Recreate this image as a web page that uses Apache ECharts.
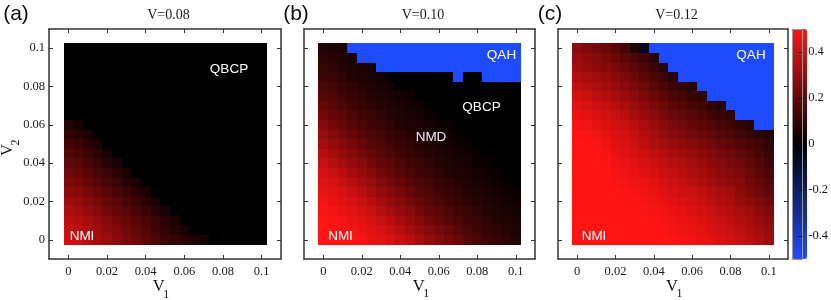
<!DOCTYPE html>
<html><head><meta charset="utf-8">
<script src="https://cdn.jsdelivr.net/npm/echarts@6/dist/echarts.min.js"></script>
<style>html,body{margin:0;padding:0;background:#fff}#c{width:831px;height:300px}</style>
</head><body><div id="c"></div>
<script>
const v1Values = [0,0.005,0.01,0.015,0.02,0.025,0.03,0.035,0.04,0.045,0.05,0.055,0.06,0.065,0.07,0.075,0.08,0.085,0.09,0.095,0.1];
const v2Values = [0,0.005,0.01,0.015,0.02,0.025,0.03,0.035,0.04,0.045,0.05,0.055,0.06,0.065,0.07,0.075,0.08,0.085,0.09,0.095,0.1];
const tickValues = [0,0.02,0.04,0.06,0.08,0.1];
const tickLabels = ['0','0.02','0.04','0.06','0.08','0.1'];
const cbTickValues = [-0.4,-0.2,0,0.2,0.4];
const cbTickLabels = ['-0.4','-0.2','0','0.2','0.4'];
const panelTitles = ['V=0.08','V=0.10','V=0.12'];
const panelLetters = ['(a)','(b)','(c)'];

// rows listed from V2 = 0.1 (top) down to V2 = 0 (bottom); columns V1 = 0 ... 0.1
const orderA = [
[0,0,0,0,0,0,0,0,0,0,0,0,0,0,0,0,0,0,0,0,0],
[0,0,0,0,0,0,0,0,0,0,0,0,0,0,0,0,0,0,0,0,0],
[0,0,0,0,0,0,0,0,0,0,0,0,0,0,0,0,0,0,0,0,0],
[0,0,0,0,0,0,0,0,0,0,0,0,0,0,0,0,0,0,0,0,0],
[0,0,0,0,0,0,0,0,0,0,0,0,0,0,0,0,0,0,0,0,0],
[0,0,0,0,0,0,0,0,0,0,0,0,0,0,0,0,0,0,0,0,0],
[0,0,0,0,0,0,0,0,0,0,0,0,0,0,0,0,0,0,0,0,0],
[0,0,0,0,0,0,0,0,0,0,0,0,0,0,0,0,0,0,0,0,0],
[0.07,0.05,0,0,0,0,0,0,0,0,0,0,0,0,0,0,0,0,0,0,0],
[0.10,0.08,0.05,0,0,0,0,0,0,0,0,0,0,0,0,0,0,0,0,0,0],
[0.13,0.11,0.08,0.05,0,0,0,0,0,0,0,0,0,0,0,0,0,0,0,0,0],
[0.16,0.14,0.11,0.08,0.05,0,0,0,0,0,0,0,0,0,0,0,0,0,0,0,0],
[0.19,0.17,0.14,0.11,0.08,0.05,0,0,0,0,0,0,0,0,0,0,0,0,0,0,0],
[0.22,0.20,0.17,0.14,0.11,0.08,0.05,0,0,0,0,0,0,0,0,0,0,0,0,0,0],
[0.25,0.23,0.20,0.17,0.14,0.11,0.08,0.05,0,0,0,0,0,0,0,0,0,0,0,0,0],
[0.28,0.26,0.23,0.20,0.17,0.14,0.11,0.08,0.05,0,0,0,0,0,0,0,0,0,0,0,0],
[0.31,0.29,0.26,0.23,0.20,0.17,0.14,0.11,0.08,0.05,0,0,0,0,0,0,0,0,0,0,0],
[0.34,0.32,0.29,0.26,0.23,0.20,0.17,0.14,0.11,0.08,0.05,0,0,0,0,0,0,0,0,0,0],
[0.37,0.35,0.32,0.29,0.26,0.23,0.20,0.17,0.14,0.11,0.08,0.05,0,0,0,0,0,0,0,0,0],
[0.39,0.37,0.34,0.31,0.28,0.25,0.22,0.19,0.16,0.13,0.10,0.07,0.05,0,0,0,0,0,0,0,0],
[0.41,0.39,0.36,0.33,0.30,0.27,0.24,0.21,0.18,0.15,0.12,0.10,0.08,0.06,0.04,0,0,0,0,0,0]
];
const orderB = [
[0.07,0.06,0.05,-0.5,-0.5,-0.5,-0.5,-0.5,-0.5,-0.5,-0.5,-0.5,-0.5,-0.5,-0.5,-0.5,-0.5,-0.5,-0.5,-0.5,-0.5],
[0.09,0.07,0.06,0.05,-0.5,-0.5,-0.5,-0.5,-0.5,-0.5,-0.5,-0.5,-0.5,-0.5,-0.5,-0.5,-0.5,-0.5,-0.5,-0.5,-0.5],
[0.11,0.09,0.07,0.06,0.05,0.04,-0.5,-0.5,-0.5,-0.5,-0.5,-0.5,-0.5,-0.5,-0.5,-0.5,-0.5,-0.5,-0.5,-0.5,-0.5],
[0.13,0.11,0.09,0.07,0.06,0.05,0.04,0,0,0,0,0,0,0,-0.5,0,0,-0.5,-0.5,-0.5,-0.5],
[0.15,0.13,0.11,0.09,0.07,0.06,0.05,0.04,0,0,0,0,0,0,0,0,0,0,0,0,0],
[0.17,0.15,0.13,0.11,0.09,0.07,0.06,0.05,0.04,0.03,0,0,0,0,0,0,0,0,0,0,0],
[0.20,0.17,0.15,0.13,0.11,0.09,0.07,0.06,0.05,0.04,0.03,0,0,0,0,0,0,0,0,0,0],
[0.23,0.20,0.17,0.15,0.13,0.11,0.09,0.07,0.06,0.05,0.04,0.03,0,0,0,0,0,0,0,0,0],
[0.26,0.23,0.20,0.17,0.15,0.13,0.11,0.09,0.07,0.06,0.05,0.04,0.03,0.02,0,0,0,0,0,0,0],
[0.29,0.26,0.23,0.20,0.17,0.15,0.13,0.11,0.09,0.07,0.06,0.05,0.04,0.03,0.02,0,0,0,0,0,0],
[0.32,0.29,0.26,0.23,0.20,0.17,0.15,0.13,0.11,0.09,0.07,0.06,0.05,0.04,0.03,0.02,0,0,0,0,0],
[0.36,0.32,0.29,0.26,0.23,0.20,0.17,0.15,0.13,0.11,0.09,0.07,0.06,0.05,0.04,0.03,0.02,0,0,0,0],
[0.39,0.36,0.32,0.29,0.26,0.23,0.20,0.17,0.15,0.13,0.11,0.09,0.07,0.06,0.05,0.04,0.03,0.02,0,0,0],
[0.42,0.39,0.36,0.32,0.29,0.26,0.23,0.20,0.17,0.15,0.13,0.11,0.09,0.07,0.06,0.05,0.04,0.03,0.02,0,0],
[0.44,0.42,0.39,0.36,0.32,0.29,0.26,0.23,0.20,0.17,0.15,0.13,0.11,0.09,0.07,0.06,0.05,0.04,0.03,0.02,0],
[0.46,0.44,0.42,0.39,0.36,0.32,0.29,0.26,0.23,0.20,0.17,0.15,0.13,0.11,0.09,0.07,0.06,0.05,0.04,0.03,0.02],
[0.48,0.46,0.44,0.42,0.39,0.36,0.32,0.29,0.26,0.23,0.20,0.17,0.15,0.13,0.11,0.09,0.07,0.06,0.05,0.04,0.03],
[0.49,0.48,0.46,0.44,0.42,0.39,0.36,0.32,0.29,0.26,0.23,0.20,0.17,0.15,0.13,0.11,0.09,0.07,0.06,0.05,0.04],
[0.50,0.49,0.48,0.46,0.44,0.42,0.39,0.36,0.32,0.29,0.26,0.23,0.20,0.17,0.15,0.13,0.11,0.09,0.07,0.06,0.05],
[0.50,0.50,0.49,0.48,0.46,0.44,0.42,0.39,0.36,0.32,0.29,0.26,0.23,0.20,0.17,0.15,0.13,0.11,0.09,0.07,0.06],
[0.50,0.50,0.50,0.49,0.48,0.46,0.44,0.42,0.39,0.36,0.32,0.29,0.26,0.23,0.20,0.17,0.15,0.13,0.11,0.09,0.07]
];
const orderC = [
[0.27,0.25,0.23,0.21,0.18,0.14,0.07,-0.05,-0.5,-0.5,-0.5,-0.5,-0.5,-0.5,-0.5,-0.5,-0.5,-0.5,-0.5,-0.5,-0.5],
[0.30,0.28,0.26,0.24,0.21,0.18,0.15,0.12,0.08,-0.5,-0.5,-0.5,-0.5,-0.5,-0.5,-0.5,-0.5,-0.5,-0.5,-0.5,-0.5],
[0.32,0.30,0.28,0.26,0.24,0.21,0.18,0.15,0.12,0.08,-0.5,-0.5,-0.5,-0.5,-0.5,-0.5,-0.5,-0.5,-0.5,-0.5,-0.5],
[0.35,0.33,0.31,0.29,0.27,0.24,0.21,0.18,0.15,0.12,0.08,-0.5,-0.5,-0.5,-0.5,-0.5,-0.5,-0.5,-0.5,-0.5,-0.5],
[0.38,0.36,0.34,0.32,0.30,0.27,0.24,0.21,0.18,0.15,0.12,0.10,0.08,-0.5,-0.5,-0.5,-0.5,-0.5,-0.5,-0.5,-0.5],
[0.41,0.39,0.37,0.35,0.33,0.30,0.27,0.24,0.21,0.18,0.15,0.13,0.11,0.09,-0.5,-0.5,-0.5,-0.5,-0.5,-0.5,-0.5],
[0.44,0.42,0.40,0.38,0.36,0.33,0.30,0.27,0.24,0.21,0.18,0.16,0.14,0.12,0.10,0.08,-0.5,-0.5,-0.5,-0.5,-0.5],
[0.46,0.45,0.43,0.41,0.39,0.36,0.33,0.30,0.27,0.24,0.21,0.19,0.17,0.15,0.13,0.11,0.09,-0.5,-0.5,-0.5,-0.5],
[0.48,0.47,0.45,0.43,0.41,0.39,0.36,0.33,0.30,0.27,0.24,0.22,0.20,0.18,0.16,0.14,0.12,0.10,0.08,-0.5,-0.5],
[0.50,0.49,0.47,0.45,0.43,0.41,0.38,0.35,0.32,0.29,0.27,0.25,0.23,0.21,0.19,0.17,0.15,0.13,0.11,0.09,0.07],
[0.50,0.50,0.49,0.47,0.45,0.43,0.40,0.37,0.34,0.32,0.30,0.28,0.26,0.24,0.22,0.20,0.18,0.16,0.14,0.12,0.09],
[0.50,0.50,0.50,0.48,0.46,0.44,0.42,0.40,0.37,0.35,0.33,0.31,0.29,0.27,0.25,0.23,0.21,0.19,0.17,0.14,0.11],
[0.50,0.50,0.50,0.49,0.47,0.46,0.44,0.42,0.40,0.38,0.36,0.34,0.32,0.30,0.28,0.26,0.24,0.22,0.19,0.16,0.13],
[0.50,0.50,0.50,0.50,0.48,0.47,0.46,0.44,0.42,0.40,0.38,0.36,0.34,0.32,0.30,0.28,0.26,0.24,0.21,0.18,0.15],
[0.50,0.50,0.50,0.50,0.49,0.48,0.47,0.46,0.44,0.42,0.40,0.38,0.36,0.34,0.32,0.30,0.28,0.26,0.23,0.20,0.17],
[0.50,0.50,0.50,0.50,0.50,0.49,0.48,0.47,0.46,0.44,0.42,0.40,0.39,0.37,0.35,0.33,0.31,0.28,0.25,0.22,0.19],
[0.50,0.50,0.50,0.50,0.50,0.50,0.49,0.48,0.47,0.46,0.44,0.43,0.41,0.39,0.37,0.35,0.33,0.30,0.28,0.25,0.22],
[0.50,0.50,0.50,0.50,0.50,0.50,0.50,0.49,0.48,0.47,0.46,0.45,0.43,0.41,0.39,0.37,0.35,0.33,0.31,0.28,0.25],
[0.50,0.50,0.50,0.50,0.50,0.50,0.50,0.50,0.49,0.48,0.47,0.46,0.45,0.43,0.41,0.39,0.37,0.35,0.33,0.30,0.27],
[0.50,0.50,0.50,0.50,0.50,0.50,0.50,0.50,0.50,0.49,0.48,0.47,0.46,0.45,0.43,0.41,0.39,0.37,0.35,0.32,0.29],
[0.50,0.50,0.50,0.50,0.50,0.50,0.50,0.50,0.50,0.50,0.49,0.48,0.47,0.46,0.45,0.43,0.41,0.39,0.37,0.34,0.31]
];

[orderA, orderB, orderC].forEach((m, k) => {
  if (m.length !== v2Values.length) throw new Error('panel ' + k + ' rows ' + m.length);
  m.forEach((r, i) => { if (r.length !== v1Values.length) throw new Error('panel ' + k + ' row ' + i + ' len ' + r.length); });
});

const chart = echarts.init(document.getElementById('c'), null, {renderer: 'canvas'});
const half = (v1Values[1] - v1Values[0]) / 2;
const serif = '"Liberation Serif", "Times New Roman", serif';
const sans = '"Liberation Sans", Arial, sans-serif';
const frameColor = '#333';

function fmtFrom(vals, labels) {
  return function (v) {
    for (let i = 0; i < vals.length; i++) if (Math.abs(vals[i] - v) < 1e-9) return labels[i];
    return '';
  };
}

const grids = [
  {left: 49, top: 29, width: 232, height: 230},
  {left: 304, top: 29, width: 231, height: 230},
  {left: 558, top: 29, width: 230, height: 230},
  {left: 792, top: 29, width: 15, height: 230}
];

const xAxis = [], yAxis = [];
for (let g = 0; g < 3; g++) {
  const line = {show: true, onZero: false, lineStyle: {color: frameColor, width: 1.5}};
  const tick = {show: true, inside: true, length: 4, customValues: tickValues, lineStyle: {color: frameColor, width: 1}};
  const lab = {show: true, customValues: tickValues, formatter: fmtFrom(tickValues, tickLabels), fontFamily: serif, fontSize: 12.5, color: '#1a1a1a'};
  xAxis.push({type: 'value', gridIndex: g, min: -0.01, max: 0.11, position: 'bottom', axisLine: line, axisTick: tick, splitLine: {show: false}, axisLabel: Object.assign({margin: 6}, lab)});
  xAxis.push({type: 'value', gridIndex: g, min: -0.01, max: 0.11, position: 'top', axisLine: line, axisTick: tick, splitLine: {show: false}, axisLabel: {show: false}});
  yAxis.push({type: 'value', gridIndex: g, min: -0.01, max: 0.11, position: 'left', axisLine: line, axisTick: tick, splitLine: {show: false}, axisLabel: g === 0 ? Object.assign({margin: 4}, lab) : {show: false}});
  yAxis.push({type: 'value', gridIndex: g, min: -0.01, max: 0.11, position: 'right', axisLine: line, axisTick: tick, splitLine: {show: false}, axisLabel: {show: false}});
}
const cbLine = {show: true, onZero: false, lineStyle: {color: '#999', width: 1}};
xAxis.push({type: 'value', gridIndex: 3, min: 0, max: 1, position: 'bottom', z: 10, axisLine: cbLine, axisTick: {show: false}, axisLabel: {show: false}, splitLine: {show: false}});
xAxis.push({type: 'value', gridIndex: 3, min: 0, max: 1, position: 'top', z: 10, axisLine: cbLine, axisTick: {show: false}, axisLabel: {show: false}, splitLine: {show: false}});
yAxis.push({type: 'value', gridIndex: 3, min: -0.5, max: 0.5, position: 'right', z: 10, axisLine: cbLine,
  axisTick: {show: true, inside: true, length: 4, customValues: cbTickValues, lineStyle: {color: '#111', width: 1}},
  axisLabel: {show: true, customValues: cbTickValues, formatter: fmtFrom(cbTickValues, cbTickLabels), margin: 6, fontFamily: serif, fontSize: 12.5, color: '#1a1a1a'},
  splitLine: {show: false}});
yAxis.push({type: 'value', gridIndex: 3, min: -0.5, max: 0.5, position: 'left', z: 10, axisLine: cbLine, axisTick: {show: false}, axisLabel: {show: false}, splitLine: {show: false}});

function cellSeries(m, xi, yi) {
  const data = [];
  m.forEach((row, r) => {
    const y = v2Values[v2Values.length - 1 - r];
    row.forEach((v, c) => data.push([v1Values[c], y, v]));
  });
  return {
    type: 'custom', xAxisIndex: xi, yAxisIndex: yi, data: data, encode: {x: 0, y: 1}, silent: true, animation: false,
    renderItem: function (params, api) {
      const x = api.value(0), y = api.value(1);
      const p0 = api.coord([x - half, y + half]);
      const p1 = api.coord([x + half, y - half]);
      const l = Math.round(p0[0]), t = Math.round(p0[1]), rr = Math.round(p1[0]), b = Math.round(p1[1]);
      return {type: 'rect', shape: {x: l, y: t, width: rr - l, height: b - t}, style: {fill: api.visual('color')}};
    }
  };
}

const white = '#ffffff';
function txt(text, x, y, font, fill, extra) {
  return Object.assign({type: 'text', x: x, y: y, z: 100, silent: true,
    style: {text: text, font: font, fill: fill, align: 'center', verticalAlign: 'middle'}}, extra || {});
}
const annoFont = '13.5px ' + sans;
const graphic = [
  txt(panelLetters[0], 16, 14, '21px ' + sans, '#111'),
  txt(panelLetters[1], 296, 14, '21px ' + sans, '#111'),
  txt(panelLetters[2], 550, 14, '21px ' + sans, '#111'),
  txt(panelTitles[0], 168.5, 15.5, '14px ' + serif, '#1a1a1a'),
  txt(panelTitles[1], 423, 15.5, '14px ' + serif, '#1a1a1a'),
  txt(panelTitles[2], 676.5, 15.5, '14px ' + serif, '#1a1a1a'),
  txt('QBCP', 229, 69, annoFont, white),
  txt('NMI', 82, 236, annoFont, white),
  txt('QAH', 501.5, 55, annoFont, white),
  txt('QBCP', 481.5, 107, annoFont, white),
  txt('NMD', 431, 137, annoFont, '#eeeeee'),
  txt('NMI', 340.5, 236, annoFont, white),
  txt('QAH', 751, 55, annoFont, white),
  txt('NMI', 594, 236, annoFont, white),
  // axis names V1 (x) and V2 (y)
  txt('V', 158.7, 287, '16.5px ' + serif, '#111'),
  txt('1', 166.2, 294.5, '12px ' + serif, '#111'),
  txt('V', 418.7, 286.5, '16.5px ' + serif, '#111'),
  txt('1', 426.2, 294, '12px ' + serif, '#111'),
  txt('V', 672, 286.5, '16.5px ' + serif, '#111'),
  txt('1', 679.5, 294, '12px ' + serif, '#111'),
  txt('V', 8, 150, '16.5px ' + serif, '#111', {rotation: Math.PI / 2}),
  txt('2', 15.5, 142.5, '12px ' + serif, '#111', {rotation: Math.PI / 2})
];

chart.setOption({
  animation: false,
  backgroundColor: '#fff',
  grid: grids,
  xAxis: xAxis,
  yAxis: yAxis,
  visualMap: {
    type: 'continuous', min: -0.5, max: 0.5, dimension: 2, seriesIndex: [0, 1, 2],
    calculable: false, show: true, left: 792, top: 29, itemWidth: 15, itemHeight: 230, padding: 0,
    hoverLink: false, inRange: {color: ['#1f4bff', '#000000', '#ff1414']}
  },
  series: [
    cellSeries(orderA, 0, 0),
    cellSeries(orderB, 2, 2),
    cellSeries(orderC, 4, 4)
  ],
  graphic: graphic
});
</script>
</body></html>
